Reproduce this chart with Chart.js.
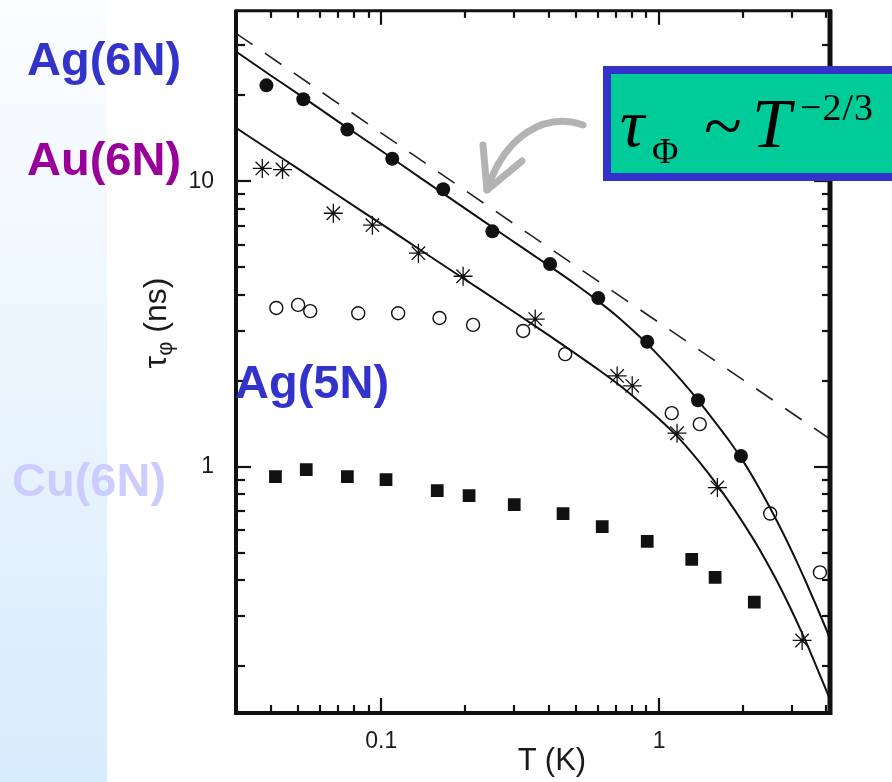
<!DOCTYPE html>
<html><head><meta charset="utf-8">
<script src="https://cdn.jsdelivr.net/npm/chart.js@4.4.1/dist/chart.umd.min.js"></script>
<style>
html,body{margin:0;padding:0;}
body{width:892px;height:782px;position:relative;overflow:hidden;background:#fff;font-family:"Liberation Sans",Arial,sans-serif;}
#strip{position:absolute;left:0;top:0;width:107px;height:782px;background:linear-gradient(to bottom,#fbfdff 0%,#e8f4fe 55%,#d6ebfc 100%);}
#c{position:absolute;left:0;top:0;}
.lab{position:absolute;font-weight:bold;font-size:47px;line-height:47px;white-space:nowrap;}
#ytitle{position:absolute;left:155px;top:323px;transform:translate(-50%,-50%) rotate(-90deg);font-size:32px;line-height:32px;color:#1a1a1a;white-space:nowrap;}
#ytitle sub{font-size:22px;line-height:0;vertical-align:-6px;}
#xtitle{position:absolute;left:552px;top:744px;transform:translateX(-50%);font-size:31px;line-height:31px;color:#1a1a1a;white-space:nowrap;}
#box{position:absolute;left:603px;top:66px;width:300px;height:115px;box-sizing:border-box;border:8px solid #3333cc;background:#00cc99;}
.f{position:absolute;font-family:"Liberation Serif","Times New Roman",serif;color:#000;white-space:nowrap;}
</style>
</head><body>
<div id="strip"></div>
<canvas id="c" width="892" height="782"></canvas>
<svg width="892" height="782" style="position:absolute;left:0;top:0">
  <path d="M583 125 C545 112 505 135 487 190" stroke="#b3b3b3" stroke-width="7" fill="none" stroke-linecap="round"/>
  <path d="M483 145 L487 190 L522 161" stroke="#b3b3b3" stroke-width="7" fill="none" stroke-linecap="round" stroke-linejoin="round"/>
</svg>
<div class="lab" style="left:27px;top:35px;color:#3333cc">Ag(6N)</div>
<div class="lab" style="left:27px;top:135px;color:#990099">Au(6N)</div>
<div class="lab" style="left:235px;top:358px;color:#3333cc">Ag(5N)</div>
<div class="lab" style="left:12px;top:456px;color:#ccccff">Cu(6N)</div>
<div id="ytitle">τ<sub>φ</sub> (ns)</div>
<div id="xtitle">T (K)</div>
<div id="box"></div>
<div class="f" style="left:620px;top:89px;font-size:68px;line-height:68px;font-style:italic">τ</div>
<div class="f" style="left:652px;top:133px;font-size:36px;line-height:36px">Φ</div>
<div class="f" style="left:704px;top:91px;font-size:70px;line-height:70px">~</div>
<div class="f" style="left:752px;top:89px;font-size:70px;line-height:70px;font-style:italic">T</div>
<div class="f" style="left:800px;top:88px;font-size:38px;line-height:38px;letter-spacing:1px">−2/3</div>
<script>
// Tick values and labels
const xTickValues = [0.04,0.05,0.06,0.07,0.08,0.09,0.1,0.2,0.3,0.4,0.5,0.6,0.7,0.8,0.9,1,2,3,4];
const xMajorTicks = [0.1, 1];
const yTickValues = [0.2,0.3,0.4,0.5,0.6,0.7,0.8,0.9,1,2,3,4,5,6,7,8,9,10,20,30];
const yMajorTicks = [1, 10];

// Ag(6N): filled circles
const ag6nT   = [0.0386, 0.0524, 0.0755, 0.1095, 0.167, 0.251, 0.405, 0.604, 0.906, 1.38, 1.97];
const ag6nTau = [21.7, 19.4, 15.2, 12.0, 9.38, 6.68, 5.13, 3.90, 2.74, 1.71, 1.09];
// Au(6N): asterisks
const au6nT   = [0.0373, 0.0441, 0.0672, 0.0929, 0.136, 0.197, 0.358, 0.706, 0.800, 1.16, 1.62, 3.27];
const au6nTau = [11.1, 11.0, 7.73, 7.02, 5.60, 4.65, 3.29, 2.08, 1.92, 1.31, 0.845, 0.246];
// Ag(5N): open circles
const ag5nT   = [0.0419, 0.0502, 0.0555, 0.0826, 0.115, 0.162, 0.214, 0.324, 0.459, 1.11, 1.40, 2.51, 3.79];
const ag5nTau = [3.60, 3.69, 3.51, 3.45, 3.45, 3.32, 3.14, 2.99, 2.48, 1.54, 1.41, 0.685, 0.426];
// Cu(6N): filled squares
const cu6nT   = [0.0416, 0.0537, 0.0755, 0.104, 0.159, 0.207, 0.301, 0.451, 0.624, 0.906, 1.31, 1.59, 2.20];
const cu6nTau = [0.923, 0.976, 0.923, 0.901, 0.824, 0.792, 0.736, 0.685, 0.617, 0.547, 0.473, 0.409, 0.335];
// Fit curves
const fitUpperT   = [0.03, 0.04, 0.05, 0.07, 0.1, 0.14, 0.2, 0.28, 0.4, 0.5, 0.6, 0.7, 0.8, 0.9, 1.0, 1.2, 1.38, 1.6, 1.8, 2.0, 2.25, 2.5, 2.8, 3.1, 3.4, 3.7, 4.0, 4.12];
const fitUpperTau = [28.5, 23.5, 20.3, 16.2, 12.8, 10.2, 8.04, 6.42, 5.07, 4.36, 3.82, 3.39, 3.02, 2.71, 2.44, 2.01, 1.71, 1.42, 1.22, 1.05, 0.868, 0.721, 0.582, 0.473, 0.388, 0.321, 0.268, 0.249];
const fitLowerT   = [0.03, 0.04, 0.05, 0.07, 0.1, 0.14, 0.2, 0.28, 0.4, 0.5, 0.6, 0.72, 0.85, 1.0, 1.15, 1.3, 1.5, 1.75, 2.0, 2.3, 2.6, 2.9, 3.27, 3.6, 4.02, 4.12];
const fitLowerTau = [15.4, 12.8, 11.1, 8.92, 7.09, 5.70, 4.53, 3.65, 2.89, 2.49, 2.20, 1.93, 1.69, 1.47, 1.29, 1.13, 0.951, 0.774, 0.638, 0.512, 0.413, 0.335, 0.261, 0.210, 0.162, 0.153];
// Dashed T^-2/3 guide
const guideT   = [0.03, 0.3, 4.12];
const guideTau = [33, 7.1, 1.25];

const pts = (xs, ys) => xs.map((x, i) => ({x, y: ys[i]}));

const frameTicks = {
  id: 'frameTicks',
  afterDraw(chart) {
    const {ctx, chartArea: a, scales: {x, y}} = chart;
    ctx.save();
    ctx.strokeStyle = '#111';
    ctx.lineWidth = 2.2;
    ctx.lineCap = 'butt';
    xTickValues.forEach(v => {
      const px = Math.round(x.getPixelForValue(v));
      const major = xMajorTicks.includes(v);
      ctx.beginPath(); ctx.moveTo(px, a.bottom); ctx.lineTo(px, a.bottom - (major ? 15 : 8)); ctx.stroke();
      ctx.beginPath(); ctx.moveTo(px, a.top); ctx.lineTo(px, a.top + (major ? 14 : 7)); ctx.stroke();
    });
    yTickValues.forEach(v => {
      const py = Math.round(y.getPixelForValue(v));
      const major = yMajorTicks.includes(v);
      ctx.beginPath(); ctx.moveTo(a.left, py); ctx.lineTo(a.left + (major ? 15 : 9), py); ctx.stroke();
      ctx.beginPath(); ctx.moveTo(a.right, py); ctx.lineTo(a.right - (major ? 16 : 8), py); ctx.stroke();
    });
    ctx.lineWidth = 3;
    ctx.beginPath(); ctx.moveTo(a.left - 1, a.top); ctx.lineTo(a.right + 2, a.top); ctx.stroke();
    ctx.lineWidth = 4;
    ctx.beginPath(); ctx.moveTo(a.left, a.top - 1); ctx.lineTo(a.left, a.bottom + 2); ctx.stroke();
    ctx.beginPath(); ctx.moveTo(a.left, a.bottom); ctx.lineTo(a.right + 2, a.bottom); ctx.stroke();
    ctx.lineWidth = 5;
    ctx.beginPath(); ctx.moveTo(a.right, a.top - 1); ctx.lineTo(a.right, a.bottom + 2); ctx.stroke();
    ctx.restore();
  }
};

const tickFont = {family: '"Liberation Sans", Arial, sans-serif', size: 23};

new Chart(document.getElementById('c'), {
  type: 'scatter',
  data: {
    datasets: [
      {data: pts(ag6nT, ag6nTau), pointStyle: 'circle', pointRadius: 7, backgroundColor: '#111', borderColor: '#111', borderWidth: 0},
      {data: pts(au6nT, au6nTau), pointStyle: 'star', pointRadius: 9.5, borderColor: '#111', borderWidth: 1.3, backgroundColor: '#111'},
      {data: pts(ag5nT, ag5nTau), pointStyle: 'circle', pointRadius: 6.5, borderColor: '#111', borderWidth: 1.4, backgroundColor: 'rgba(0,0,0,0)'},
      {data: pts(cu6nT, cu6nTau), pointStyle: 'rect', pointRadius: 9, backgroundColor: '#111', borderColor: '#111', borderWidth: 0},
      {data: pts(fitUpperT, fitUpperTau), showLine: true, pointRadius: 0, borderColor: '#111', borderWidth: 2, cubicInterpolationMode: 'monotone'},
      {data: pts(fitLowerT, fitLowerTau), showLine: true, pointRadius: 0, borderColor: '#111', borderWidth: 2, cubicInterpolationMode: 'monotone'},
      {data: pts(guideT, guideTau), showLine: true, pointRadius: 0, borderColor: '#222', borderWidth: 1.6, borderDash: [20, 15]}
    ]
  },
  options: {
    responsive: false,
    animation: false,
    devicePixelRatio: 1,
    layout: {padding: {left: 0, top: 9, right: 62, bottom: 0}},
    plugins: {legend: {display: false}, tooltip: {enabled: false}},
    scales: {
      x: {
        type: 'logarithmic', min: 0.03, max: 4.12,
        afterFit(s) { s.height = 69; s.paddingLeft = 0; s.paddingRight = 0; s.paddingTop = 0; s.paddingBottom = 0; },
        afterBuildTicks(s) { s.ticks = xMajorTicks.map(v => ({value: v})); },
        ticks: {callback: v => String(v), font: tickFont, color: '#1a1a1a', padding: 7, autoSkip: false, maxRotation: 0},
        grid: {display: false}, border: {display: false}
      },
      y: {
        type: 'logarithmic', min: 0.137, max: 39.6,
        afterFit(s) { s.width = 236; s.paddingTop = 0; s.paddingBottom = 0; s.paddingLeft = 0; s.paddingRight = 0; },
        afterBuildTicks(s) { s.ticks = yMajorTicks.map(v => ({value: v})); },
        ticks: {callback: v => String(v), font: tickFont, color: '#1a1a1a', padding: 14, autoSkip: false},
        grid: {display: false}, border: {display: false}
      }
    }
  },
  plugins: [frameTicks]
});
</script>
</body></html>
